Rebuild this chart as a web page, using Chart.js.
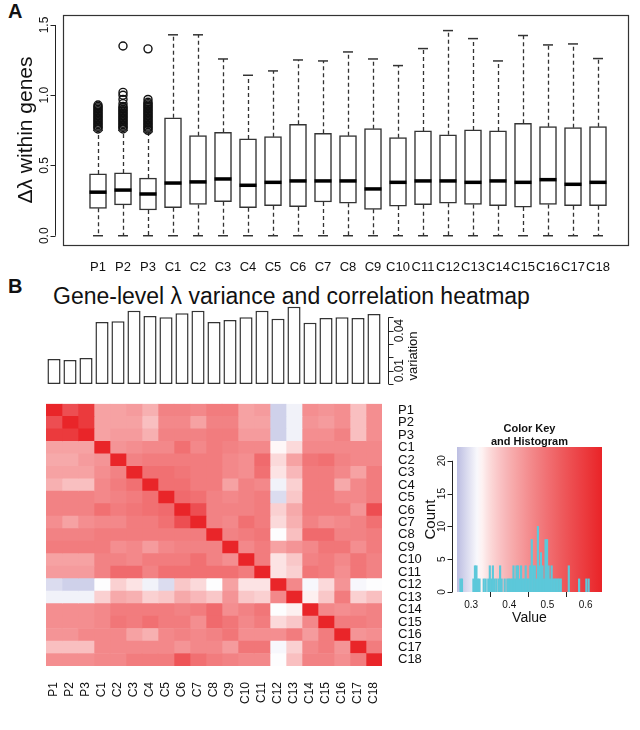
<!DOCTYPE html>
<html>
<head>
<meta charset="utf-8">
<script src="https://cdn.jsdelivr.net/npm/chart.js@4.4.1/dist/chart.umd.min.js"></script>
<style>
  body { margin: 0; background: #fff; width: 640px; height: 730px; position: relative; overflow: hidden;
         font-family: "Liberation Sans", Arial, Helvetica, sans-serif; color: #111; }
  canvas { position: absolute; }
  .panel { position: absolute; font-weight: bold; font-size: 20px; }
  #titleB { position: absolute; left: 53px; top: 283px; font-size: 23px; white-space: nowrap; }
</style>
</head>
<body>
<div class="panel" style="left:8px;top:0px">A</div>
<div class="panel" style="left:8px;top:275px">B</div>
<div id="titleB">Gene-level λ variance and correlation heatmap</div>
<canvas id="boxChart" width="640" height="280" style="left:0;top:0"></canvas>
<canvas id="varChart" width="440" height="100" style="left:0;top:292px"></canvas>
<canvas id="heatChart" width="440" height="335" style="left:0;top:388px"></canvas>
<canvas id="keyChart" width="220" height="230" style="left:400px;top:405px"></canvas>
<script>
// samples, same order in every panel
const groups = ['P1', 'P2', 'P3', 'C1', 'C2', 'C3', 'C4', 'C5', 'C6', 'C7', 'C8', 'C9',
                'C10', 'C11', 'C12', 'C13', 'C14', 'C15', 'C16', 'C17', 'C18'];

// panel A: box statistics of delta lambda
const boxMin    = [0, 0, 0, 0, 0, 0, 0, 0, 0, 0, 0, 0, 0, 0, 0, 0, 0, 0, 0, 0, 0];
const boxQ1     = [0.195, 0.22, 0.183, 0.20, 0.223, 0.242, 0.20, 0.214, 0.207, 0.24, 0.231, 0.188,
                   0.211, 0.221, 0.231, 0.223, 0.214, 0.204, 0.223, 0.214, 0.214];
const boxMedian = [0.31, 0.325, 0.297, 0.375, 0.383, 0.404, 0.359, 0.38, 0.39, 0.39, 0.39, 0.333,
                   0.38, 0.39, 0.39, 0.38, 0.39, 0.38, 0.399, 0.366, 0.38];
const boxQ3     = [0.44, 0.447, 0.41, 0.84, 0.712, 0.736, 0.689, 0.705, 0.793, 0.729, 0.712, 0.762,
                   0.698, 0.746, 0.719, 0.753, 0.746, 0.80, 0.776, 0.769, 0.776];
const boxMax    = [0.75, 0.75, 0.74, 1.43, 1.43, 1.258, 1.142, 1.173, 1.251, 1.244, 1.308, 1.258,
                   1.211, 1.332, 1.46, 1.403, 1.244, 1.425, 1.358, 1.365, 1.261];
const outlierP1 = [0.76, 0.77, 0.78, 0.79, 0.80, 0.81, 0.82, 0.83, 0.84, 0.85, 0.86, 0.87, 0.88, 0.89, 0.90, 0.91, 0.92, 0.93];
const outlierP2 = [0.76, 0.77, 0.78, 0.79, 0.80, 0.81, 0.82, 0.83, 0.84, 0.85, 0.86, 0.87, 0.88, 0.89, 0.90, 0.91, 0.92,
                   0.94, 0.97, 1.00, 1.02, 1.35];
const outlierP3 = [0.75, 0.76, 0.77, 0.78, 0.79, 0.80, 0.81, 0.82, 0.83, 0.84, 0.85, 0.86, 0.87, 0.88, 0.89, 0.90, 0.91,
                   0.92, 0.93, 0.94, 0.95, 0.97, 1.33];
const boxTicks  = [0, 0.5, 1.0, 1.5];

// panel B: per-sample variation
const variation = [0.0188, 0.018, 0.0195, 0.0465, 0.047, 0.055, 0.051, 0.050, 0.053, 0.055, 0.0465, 0.048,
                   0.050, 0.055, 0.049, 0.058, 0.046, 0.0495, 0.050, 0.0495, 0.0525];
const varTicks  = [0, 0.01, 0.02, 0.03, 0.04, 0.05];

// panel B: correlation heatmap (rows and columns follow groups)
const corr = [
  [0.64, 0.56, 0.60, 0.42, 0.42, 0.43, 0.40, 0.47, 0.47, 0.46, 0.48, 0.48, 0.42, 0.43, 0.28, 0.31, 0.45, 0.44, 0.45, 0.38, 0.45],
  [0.56, 0.64, 0.60, 0.42, 0.42, 0.42, 0.38, 0.46, 0.46, 0.42, 0.47, 0.47, 0.42, 0.42, 0.28, 0.31, 0.44, 0.43, 0.45, 0.38, 0.45],
  [0.60, 0.60, 0.64, 0.42, 0.43, 0.43, 0.40, 0.47, 0.47, 0.47, 0.48, 0.48, 0.43, 0.43, 0.28, 0.31, 0.45, 0.45, 0.47, 0.38, 0.45],
  [0.42, 0.42, 0.42, 0.64, 0.44, 0.45, 0.46, 0.46, 0.50, 0.46, 0.48, 0.47, 0.46, 0.46, 0.325, 0.35, 0.46, 0.46, 0.46, 0.46, 0.46],
  [0.41, 0.41, 0.43, 0.44, 0.64, 0.47, 0.48, 0.48, 0.48, 0.48, 0.48, 0.46, 0.45, 0.51, 0.35, 0.42, 0.49, 0.50, 0.47, 0.46, 0.46],
  [0.42, 0.42, 0.42, 0.45, 0.47, 0.64, 0.50, 0.50, 0.49, 0.48, 0.48, 0.46, 0.45, 0.50, 0.34, 0.39, 0.48, 0.48, 0.46, 0.42, 0.48],
  [0.40, 0.38, 0.38, 0.46, 0.48, 0.50, 0.64, 0.50, 0.50, 0.48, 0.48, 0.42, 0.47, 0.46, 0.31, 0.36, 0.48, 0.48, 0.41, 0.46, 0.48],
  [0.47, 0.47, 0.47, 0.46, 0.47, 0.48, 0.50, 0.64, 0.51, 0.50, 0.47, 0.46, 0.47, 0.48, 0.29, 0.37, 0.48, 0.48, 0.46, 0.46, 0.48],
  [0.47, 0.47, 0.47, 0.50, 0.48, 0.49, 0.50, 0.51, 0.64, 0.56, 0.47, 0.47, 0.47, 0.48, 0.36, 0.41, 0.48, 0.48, 0.48, 0.44, 0.56],
  [0.45, 0.42, 0.45, 0.46, 0.46, 0.48, 0.48, 0.50, 0.56, 0.64, 0.47, 0.46, 0.50, 0.48, 0.35, 0.40, 0.47, 0.45, 0.46, 0.47, 0.50],
  [0.47, 0.47, 0.47, 0.48, 0.48, 0.48, 0.48, 0.48, 0.48, 0.48, 0.64, 0.47, 0.48, 0.49, 0.32, 0.38, 0.51, 0.51, 0.47, 0.47, 0.48],
  [0.48, 0.48, 0.48, 0.48, 0.45, 0.46, 0.43, 0.46, 0.47, 0.47, 0.47, 0.64, 0.46, 0.48, 0.42, 0.44, 0.46, 0.49, 0.49, 0.45, 0.48],
  [0.42, 0.42, 0.42, 0.47, 0.47, 0.46, 0.48, 0.48, 0.48, 0.50, 0.47, 0.45, 0.64, 0.48, 0.34, 0.37, 0.47, 0.48, 0.46, 0.49, 0.47],
  [0.43, 0.43, 0.43, 0.47, 0.51, 0.51, 0.47, 0.50, 0.50, 0.50, 0.50, 0.50, 0.48, 0.64, 0.34, 0.36, 0.49, 0.48, 0.45, 0.49, 0.47],
  [0.29, 0.28, 0.28, 0.32, 0.36, 0.34, 0.31, 0.29, 0.37, 0.35, 0.32, 0.42, 0.34, 0.34, 0.64, 0.46, 0.315, 0.35, 0.44, 0.315, 0.32],
  [0.31, 0.31, 0.31, 0.36, 0.41, 0.40, 0.36, 0.37, 0.41, 0.39, 0.37, 0.44, 0.37, 0.36, 0.46, 0.64, 0.33, 0.37, 0.48, 0.36, 0.38],
  [0.45, 0.45, 0.45, 0.46, 0.48, 0.48, 0.48, 0.48, 0.47, 0.48, 0.51, 0.45, 0.47, 0.49, 0.32, 0.33, 0.64, 0.46, 0.45, 0.46, 0.47],
  [0.45, 0.45, 0.45, 0.46, 0.49, 0.48, 0.50, 0.48, 0.48, 0.45, 0.51, 0.49, 0.46, 0.48, 0.35, 0.37, 0.46, 0.64, 0.48, 0.48, 0.47],
  [0.44, 0.44, 0.46, 0.46, 0.46, 0.42, 0.40, 0.46, 0.47, 0.46, 0.47, 0.49, 0.45, 0.45, 0.45, 0.48, 0.43, 0.48, 0.64, 0.44, 0.45],
  [0.38, 0.38, 0.38, 0.46, 0.46, 0.46, 0.46, 0.46, 0.44, 0.46, 0.46, 0.43, 0.49, 0.49, 0.315, 0.36, 0.46, 0.48, 0.44, 0.64, 0.48],
  [0.45, 0.45, 0.45, 0.46, 0.46, 0.48, 0.48, 0.48, 0.55, 0.50, 0.48, 0.47, 0.46, 0.46, 0.32, 0.38, 0.47, 0.47, 0.45, 0.48, 0.64]
];

// colour key histogram
const histValue = [0.272, 0.276, 0.306, 0.310, 0.314, 0.318, 0.322, 0.333, 0.338, 0.345, 0.349, 0.353, 0.357, 0.361,
                   0.366, 0.372, 0.376, 0.380, 0.388, 0.395, 0.399, 0.403, 0.407, 0.411, 0.415, 0.419, 0.423, 0.427,
                   0.431, 0.435, 0.439, 0.443, 0.447, 0.451, 0.455, 0.459, 0.463, 0.467, 0.471, 0.475, 0.479, 0.483,
                   0.487, 0.491, 0.495, 0.499, 0.503, 0.507, 0.511, 0.515, 0.519, 0.523, 0.527, 0.531, 0.535, 0.556,
                   0.583, 0.602, 0.608];
const histCount = [2, 2, 2, 4, 4, 2, 2, 2, 2, 2, 4, 2, 4, 2,
                   2, 2, 4, 2, 2, 2, 2, 2, 2, 4, 2, 4, 4, 2,
                   4, 2, 2, 4, 2, 2, 4, 8, 4, 4, 2, 10, 4, 6,
                   4, 2, 8, 8, 4, 2, 4, 2, 2, 2, 2, 2, 2, 4,
                   2, 2, 2];
const countTicks = [0, 5, 10, 15, 20];
const valueTicks = [0.3, 0.4, 0.5, 0.6];

// colour scale: lavender -> white -> red
const keyLow = 0.263, keyMid = 0.322, keyHigh = 0.643;
const rgbLow = [188, 190, 226], rgbMid = [255, 255, 255], rgbHigh = [233, 36, 40];

const fontFamily = '"Liberation Sans", Arial, Helvetica, sans-serif';
Chart.defaults.font.family = fontFamily;
Chart.defaults.color = '#111';
Chart.defaults.animation = false;
Chart.defaults.events = [];
Chart.defaults.plugins.legend.display = false;
Chart.defaults.plugins.tooltip.enabled = false;

function heatColor(v) {
  let a, b, t;
  if (v <= keyMid) { a = rgbLow; b = rgbMid; t = (v - keyLow) / (keyMid - keyLow); }
  else { a = rgbMid; b = rgbHigh; t = Math.pow(Math.min(1, (v - keyMid) / (keyHigh - keyMid)), 0.72); }
  t = Math.max(0, Math.min(1, t));
  return 'rgb(' + a.map((c, k) => Math.round(c + (b[k] - c) * t)).join(',') + ')';
}

// text turned to read upwards, as R does for side axes
function upText(ctx, text, x, y, size, bold) {
  ctx.save();
  ctx.translate(x, y);
  ctx.rotate(-Math.PI / 2);
  ctx.font = (bold ? 'bold ' : '') + size + 'px ' + fontFamily;
  ctx.fillStyle = '#111';
  ctx.textAlign = 'center';
  ctx.textBaseline = 'middle';
  ctx.fillText(text, 0, 0);
  ctx.restore();
}

// R-style vertical axis: line over the tick range, outward ticks, upright labels
function sideAxis(ctx, scale, lineX, dir, values, labels, size, gap) {
  ctx.save();
  ctx.strokeStyle = '#222';
  ctx.lineWidth = 1;
  ctx.beginPath();
  ctx.moveTo(lineX, scale.getPixelForValue(values[0]));
  ctx.lineTo(lineX, scale.getPixelForValue(values[values.length - 1]));
  values.forEach(v => {
    const y = Math.round(scale.getPixelForValue(v)) + 0.5;
    ctx.moveTo(lineX, y);
    ctx.lineTo(lineX + dir * 5, y);
  });
  ctx.stroke();
  ctx.restore();
  values.forEach((v, i) => {
    if (labels[i]) upText(ctx, labels[i], lineX + dir * gap, scale.getPixelForValue(v), size);
  });
}

// ---------- panel A: boxplot ----------
const boxPlugin = {
  id: 'boxPlugin',
  beforeDatasetsDraw(chart) {
    const { ctx, scales: { x, y } } = chart;
    ctx.save();
    ctx.strokeStyle = '#333';
    ctx.lineWidth = 1.3;
    ctx.setLineDash([4, 3]);
    groups.forEach((g, i) => {
      const px = Math.round(x.getPixelForValue(i)) + 0.5;
      ctx.beginPath();
      ctx.moveTo(px, y.getPixelForValue(boxQ3[i]));
      ctx.lineTo(px, y.getPixelForValue(boxMax[i]));
      ctx.moveTo(px, y.getPixelForValue(boxQ1[i]));
      ctx.lineTo(px, y.getPixelForValue(boxMin[i]));
      ctx.stroke();
    });
    ctx.restore();
  },
  afterDraw(chart) {
    const { ctx, chartArea: a, scales: { y } } = chart;
    ctx.save();
    ctx.strokeStyle = '#333';
    ctx.lineWidth = 1.2;
    ctx.strokeRect(a.left + 0.5, a.top + 0.5, a.right - a.left, a.bottom - a.top);
    ctx.restore();
    sideAxis(ctx, y, 55.5, -1, boxTicks, boxTicks.map(v => v.toFixed(1)), 12, 11);
  }
};

const outlierData = [].concat(
  outlierP1.map(v => ({ x: 0, y: v })),
  outlierP2.map(v => ({ x: 1, y: v })),
  outlierP3.map(v => ({ x: 2, y: v }))
);

new Chart(document.getElementById('boxChart'), {
  type: 'scatter',
  data: {
    datasets: [
      {
        label: 'median',
        data: groups.map((g, i) => ({ x: i, y: boxMedian[i] })),
        pointStyle: 'line', radius: 8.5, borderWidth: 3.5, borderColor: '#000', order: 1
      },
      {
        label: 'caps',
        data: groups.flatMap((g, i) => [{ x: i, y: boxMin[i] }, { x: i, y: boxMax[i] }]),
        pointStyle: 'line', radius: 5, borderWidth: 1.5, borderColor: '#333', order: 1
      },
      {
        label: 'outliers',
        data: outlierData,
        pointStyle: 'circle', radius: 4, borderWidth: 1.4, borderColor: '#111',
        backgroundColor: 'rgba(255,255,255,0)', order: 1
      },
      {
        type: 'bar',
        label: 'box',
        data: groups.map((g, i) => ({ x: i, y: [boxQ1[i], boxQ3[i]] })),
        backgroundColor: '#fff', borderColor: '#333', borderWidth: 1.5, borderSkipped: false,
        barThickness: 17, order: 5
      }
    ]
  },
  options: {
    responsive: false,
    layout: { padding: { top: 15, right: 5, left: 0, bottom: 0 } },
    scales: {
      x: {
        type: 'linear', min: -1.4, max: 21.2, offset: false,
        grid: { display: false }, border: { display: false },
        afterBuildTicks: axis => { axis.ticks = groups.map((g, i) => ({ value: i })); },
        ticks: { autoSkip: false, maxRotation: 0, padding: 7, font: { size: 13 }, callback: v => groups[v] },
        afterFit: s => { s.height = 35; }
      },
      y: {
        min: -0.066, max: 1.571,
        grid: { display: false }, border: { display: false },
        ticks: { display: false },
        title: { display: true, text: 'Δλ within genes', font: { size: 21 }, padding: { top: 14, bottom: 0 } },
        afterFit: s => { s.width = 63; }
      }
    }
  },
  plugins: [boxPlugin]
});

// ---------- panel B: variation bars ----------
const varPlugin = {
  id: 'varPlugin',
  afterDraw(chart) {
    const { ctx, scales: { y } } = chart;
    sideAxis(ctx, y, 388.5, 1, varTicks, ['', '0.01', '', '', '0.04', ''], 12, 11);
    upText(ctx, 'variation', 413, y.getPixelForValue(0.021), 13);
  }
};

new Chart(document.getElementById('varChart'), {
  type: 'bar',
  data: {
    labels: groups,
    datasets: [{
      data: variation,
      backgroundColor: '#fff', borderColor: '#333', borderWidth: 1.5, borderSkipped: false,
      barPercentage: 0.82, categoryPercentage: 1
    }]
  },
  options: {
    responsive: false,
    layout: { padding: { left: 46, right: 58, top: 10, bottom: 8 } },
    scales: {
      x: { display: false },
      y: { display: false, min: 0, max: 0.0615 }
    }
  },
  plugins: [varPlugin]
});

// ---------- panel B: correlation heatmap ----------
new Chart(document.getElementById('heatChart'), {
  type: 'bar',
  data: {
    labels: groups,
    datasets: groups.map((col, j) => ({
      label: col,
      data: groups.map(() => [j, j + 1]),
      backgroundColor: groups.map((row, i) => heatColor(corr[i][j])),
      borderWidth: 0, barPercentage: 1, categoryPercentage: 1, grouped: false
    }))
  },
  options: {
    indexAxis: 'y',
    responsive: false,
    layout: { padding: { left: 46, top: 5, right: 0, bottom: 0 } },
    scales: {
      x: {
        type: 'linear', min: 0, max: 21,
        grid: { display: false }, border: { display: false },
        afterBuildTicks: axis => { axis.ticks = groups.map((g, j) => ({ value: j + 0.5 })); },
        ticks: { autoSkip: false, minRotation: 90, maxRotation: 90, padding: 8, font: { size: 12 },
                 callback: v => groups[Math.floor(v)] },
        afterFit: s => { s.height = 57; }
      },
      y: {
        position: 'right', offset: true,
        grid: { display: false }, border: { display: false },
        ticks: { autoSkip: false, padding: 8, font: { size: 13 } },
        afterFit: s => { s.width = 58; }
      }
    }
  }
});

// ---------- colour key and histogram ----------
const keyPlugin = {
  id: 'keyPlugin',
  beforeDatasetsDraw(chart) {
    const { ctx, chartArea: a, scales: { x } } = chart;
    const grad = ctx.createLinearGradient(a.left, 0, a.right, 0);
    for (let px = a.left; px <= a.right; px += 5) {
      grad.addColorStop((px - a.left) / (a.right - a.left), heatColor(x.getValueForPixel(px)));
    }
    ctx.save();
    ctx.fillStyle = grad;
    ctx.fillRect(a.left, a.top, a.right - a.left, a.bottom - a.top);
    ctx.restore();
  },
  afterDraw(chart) {
    const { ctx, chartArea: a, scales: { y } } = chart;
    sideAxis(ctx, y, 52.5, -1, countTicks, countTicks.map(String), 10, 10);
    const cx = (a.left + a.right) / 2;
    ctx.save();
    ctx.font = 'bold 11px ' + fontFamily;
    ctx.fillStyle = '#111';
    ctx.textAlign = 'center';
    ctx.textBaseline = 'middle';
    ctx.fillText('Color Key', cx, 24);
    ctx.fillText('and Histogram', cx, 37);
    ctx.restore();
  }
};

new Chart(document.getElementById('keyChart'), {
  type: 'scatter',
  data: {
    datasets: [{
      type: 'bar',
      data: histValue.map((v, i) => ({ x: v, y: histCount[i] })),
      backgroundColor: '#5CC8DA', borderWidth: 0, barThickness: 1.5
    }]
  },
  options: {
    responsive: false,
    layout: { padding: { top: 42, right: 18, left: 0, bottom: 8 } },
    scales: {
      x: {
        type: 'linear', min: keyLow, max: keyHigh, offset: false,
        grid: { drawOnChartArea: false, tickLength: 5, color: '#222' }, border: { display: false },
        afterBuildTicks: axis => { axis.ticks = valueTicks.map(v => ({ value: v })); },
        ticks: { font: { size: 10 }, padding: 2, callback: v => v.toFixed(1) },
        title: { display: true, text: 'Value', font: { size: 14 }, padding: { top: 0, bottom: 0 } },
        afterFit: s => { s.height = 35; }
      },
      y: {
        min: 0, max: 22.1,
        grid: { display: false }, border: { display: false },
        ticks: { display: false },
        title: { display: true, text: 'Count', font: { size: 15 }, padding: { top: 22, bottom: 0 } },
        afterFit: s => { s.width = 57; }
      }
    }
  },
  plugins: [keyPlugin]
});
</script>
</body>
</html>
